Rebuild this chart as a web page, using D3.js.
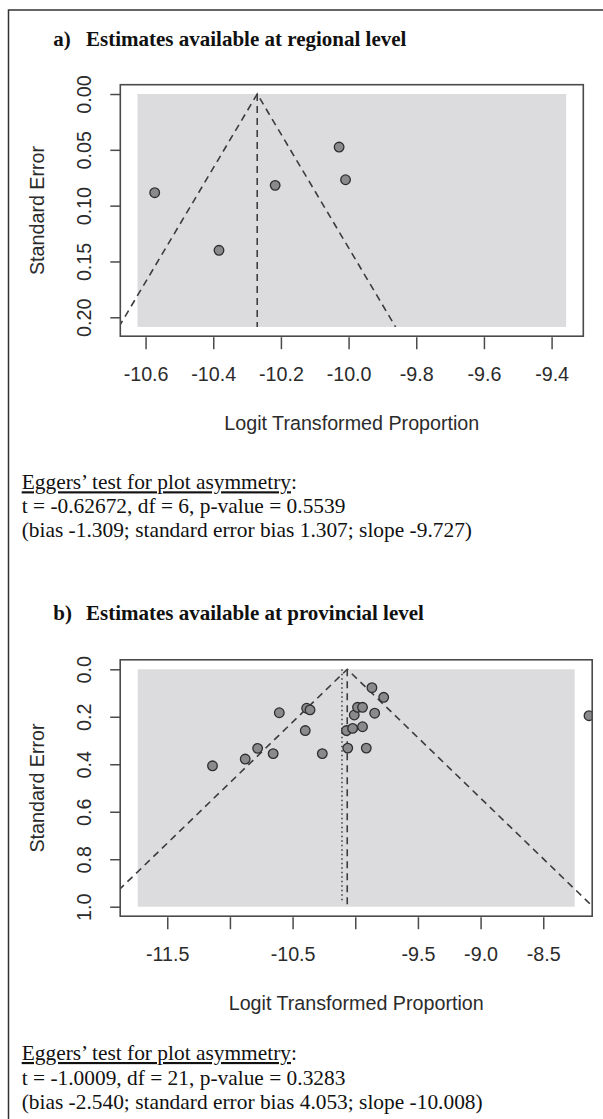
<!DOCTYPE html>
<html>
<head>
<meta charset="utf-8">
<script src="https://cdn.jsdelivr.net/npm/d3@7"></script>
<style>
  body { margin: 0; background: #fff; }
  .ax text { font-family: "Liberation Sans", Arial, sans-serif; font-size: 19.7px; fill: #2b2b2b; }
  .ax line { stroke: #4a4a4a; stroke-width: 1.5; }
  .body { font-family: "Liberation Serif", "Times New Roman", serif; font-size: 21.4px; fill: #111; }
  .title { font-family: "Liberation Serif", "Times New Roman", serif; font-size: 21px; font-weight: bold; fill: #111; }
</style>
</head>
<body>
<div id="chart"></div>
<script>
// panel a: regional level
var estA = [-10.573, -10.383, -10.217, -10.028, -10.009];
var seA = [0.0884, 0.140, 0.0818, 0.0475, 0.0768];
var centerA = -10.270;
var xTicksA = [-10.6, -10.4, -10.2, -10.0, -9.8, -9.6, -9.4];
var xLabelsA = ["-10.6", "-10.4", "-10.2", "-10.0", "-9.8", "-9.6", "-9.4"];
var seTicksA = [0, 0.05, 0.10, 0.15, 0.20];
var seLabelsA = ["0.00", "0.05", "0.10", "0.15", "0.20"];
var xlimA = [-10.624, -9.357];
var selimA = [0, 0.2086];

// panel b: provincial level
var estB = [-11.139, -10.878, -10.779, -10.655, -10.606, -10.399, -10.388, -10.361, -10.263,
  -10.070, -10.060, -10.021, -10.008, -9.982, -9.942, -9.942, -9.912, -9.867, -9.845, -9.773, -8.135];
var seB = [0.4065, 0.378, 0.333, 0.355, 0.183, 0.258, 0.164, 0.171, 0.355,
  0.258, 0.332, 0.249, 0.1925, 0.160, 0.160, 0.242, 0.332, 0.0775, 0.185, 0.118, 0.1955];
var centerB = -10.064;
var dottedB = -10.106;
var xTicksB = [-11.5, -11.0, -10.5, -10.0, -9.5, -9.0, -8.5];
var xLabelsB = ["-11.5", "", "-10.5", "", "-9.5", "-9.0", "-8.5"];
var seTicksB = [0, 0.2, 0.4, 0.6, 0.8, 1.0];
var seLabelsB = ["0.0", "0.2", "0.4", "0.6", "0.8", "1.0"];
var xlimB = [-11.736, -8.249];
var selimB = [0, 1.0];

var svg = d3.select("#chart").append("svg")
  .attr("width", 603)
  .attr("height", 1119);

// outer frame (only top and left are inside the picture)
svg.append("rect")
  .attr("x", 8.5).attr("y", 10)
  .attr("width", 620).attr("height", 1140)
  .attr("fill", "none")
  .attr("stroke", "#333")
  .attr("stroke-width", 1.5);

function ext(lim) {
  var d = (lim[1] - lim[0]) * 0.04;
  return [lim[0] - d, lim[1] + d];
}

function funnel(cfg) {
  var b = cfg.box;
  var x = d3.scaleLinear().domain(ext(cfg.xlim)).range([b.left, b.left + b.width]);
  var y = d3.scaleLinear().domain(ext(cfg.selim)).range([b.top, b.top + b.height]);

  svg.append("clipPath").attr("id", cfg.id)
    .append("rect")
    .attr("x", b.left).attr("y", b.top)
    .attr("width", b.width).attr("height", b.height);

  // white plot region + gray background
  svg.append("rect")
    .attr("x", b.left).attr("y", b.top)
    .attr("width", b.width).attr("height", b.height)
    .attr("fill", "#fff");

  svg.append("rect")
    .attr("x", x(cfg.xlim[0])).attr("y", y(cfg.selim[0]))
    .attr("width", x(cfg.xlim[1]) - x(cfg.xlim[0]))
    .attr("height", y(cfg.selim[1]) - y(cfg.selim[0]))
    .attr("fill", "#dcdcde");

  var g = svg.append("g").attr("clip-path", "url(#" + cfg.id + ")");

  // funnel lines
  var seMax = cfg.selim[1];
  var tri = [[cfg.center - 1.96 * seMax, seMax], [cfg.center, 0], [cfg.center + 1.96 * seMax, seMax]];
  g.append("path")
    .attr("d", d3.line().x(d => x(d[0])).y(d => y(d[1]))(tri))
    .attr("fill", "none")
    .attr("stroke", "#3c3c3c")
    .attr("stroke-width", 1.6)
    .attr("stroke-dasharray", "7,5");

  g.append("line")
    .attr("x1", x(cfg.center)).attr("x2", x(cfg.center))
    .attr("y1", y(0)).attr("y2", y(seMax))
    .attr("stroke", "#3c3c3c")
    .attr("stroke-width", 1.6)
    .attr("stroke-dasharray", "7,5");

  if (cfg.dotted !== undefined) {
    g.append("line")
      .attr("x1", x(cfg.dotted)).attr("x2", x(cfg.dotted))
      .attr("y1", y(0)).attr("y2", y(seMax) - 4)
      .attr("stroke", "#3c3c3c")
      .attr("stroke-width", 1.5)
      .attr("stroke-dasharray", "1.5,3");
  }

  // studies
  g.selectAll("circle")
    .data(cfg.est)
    .enter()
    .append("circle")
    .attr("cx", d => x(d))
    .attr("cy", (d, i) => y(cfg.se[i]))
    .attr("r", 4.8)
    .attr("fill", "#8a8a8c")
    .attr("stroke", "#2e2e2e")
    .attr("stroke-width", 1.3);

  // box
  svg.append("rect")
    .attr("x", b.left).attr("y", b.top)
    .attr("width", b.width).attr("height", b.height)
    .attr("fill", "none")
    .attr("stroke", "#4a4a4a")
    .attr("stroke-width", 1.6);

  // x axis
  var xAxis = svg.append("g")
    .attr("class", "ax")
    .attr("transform", `translate(0, ${b.top + b.height + 1})`)
    .call(d3.axisBottom(x).tickValues(cfg.xTicks).tickSize(12)
      .tickFormat((d, i) => cfg.xLabels[i]));
  xAxis.select(".domain").remove();
  xAxis.selectAll("text").attr("y", 44).attr("dy", null);

  // y axis
  var yAxis = svg.append("g")
    .attr("class", "ax")
    .attr("transform", `translate(${b.left}, 0)`)
    .call(d3.axisLeft(y).tickValues(cfg.seTicks).tickSize(10)
      .tickFormat((d, i) => cfg.seLabels[i]));
  yAxis.select(".domain").remove();
  yAxis.selectAll("text")
    .attr("transform", "rotate(-90)")
    .attr("x", 0).attr("y", -29).attr("dy", null)
    .style("text-anchor", "middle");

  // axis titles
  svg.append("text")
    .attr("x", b.left + b.width / 2)
    .attr("y", b.top + b.height + 93.5)
    .style("text-anchor", "middle")
    .style("font-family", "'Liberation Sans', Arial, sans-serif")
    .style("font-size", "19.7px")
    .style("fill", "#2b2b2b")
    .text("Logit Transformed Proportion");

  svg.append("text")
    .attr("transform", `translate(${b.left - 76}, ${b.top + b.height / 2}) rotate(-90)`)
    .style("text-anchor", "middle")
    .style("font-family", "'Liberation Sans', Arial, sans-serif")
    .style("font-size", "19.7px")
    .style("fill", "#2b2b2b")
    .text("Standard Error");

  // panel title
  svg.append("text").attr("class", "title")
    .attr("x", 53.3).attr("y", cfg.titleY).text(cfg.letter);
  svg.append("text").attr("class", "title")
    .attr("x", 86).attr("y", cfg.titleY).text(cfg.title);

  // Egger's test text
  var t1 = svg.append("text").attr("class", "body")
    .attr("x", 21.7).attr("y", cfg.textY[0]);
  t1.append("tspan").style("text-decoration", "underline").text("Eggers\u2019 test for plot asymmetry");
  t1.append("tspan").text(":");
  cfg.lines.forEach(function(s, i) {
    svg.append("text").attr("class", "body")
      .attr("x", 21.7).attr("y", cfg.textY[i + 1]).text(s);
  });
}

funnel({
  id: "clipA",
  box: { left: 120.3, top: 84.7, width: 463, height: 251.5 },
  xlim: xlimA, selim: selimA, center: centerA,
  est: estA, se: seA,
  xTicks: xTicksA, xLabels: xLabelsA, seTicks: seTicksA, seLabels: seLabelsA,
  letter: "a)", title: "Estimates available at regional level", titleY: 45.7,
  textY: [489.3, 513.3, 537.3],
  lines: ["t = -0.62672, df = 6, p-value = 0.5539",
    "(bias -1.309; standard error bias 1.307; slope -9.727)"]
});

funnel({
  id: "clipB",
  box: { left: 120.2, top: 659.8, width: 472, height: 256.4 },
  xlim: xlimB, selim: selimB, center: centerB, dotted: dottedB,
  est: estB, se: seB,
  xTicks: xTicksB, xLabels: xLabelsB, seTicks: seTicksB, seLabels: seLabelsB,
  letter: "b)", title: "Estimates available at provincial level", titleY: 620,
  textY: [1060, 1084.5, 1109],
  lines: ["t = -1.0009, df = 21, p-value = 0.3283",
    "(bias -2.540; standard error bias 4.053; slope -10.008)"]
});
</script>
</body>
</html>
